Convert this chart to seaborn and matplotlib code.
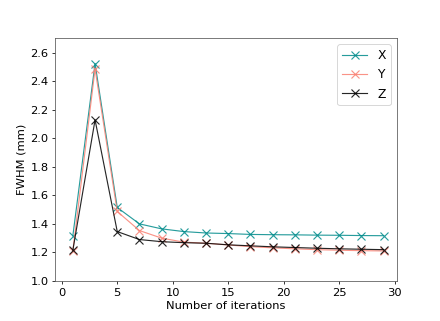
import matplotlib
matplotlib.use("Agg")
import matplotlib.pyplot as plt
import seaborn as sns

iterations = [1, 3, 5, 7, 9, 11, 13, 15, 17, 19, 21, 23, 25, 27, 29]
fwhm_x = [1.318, 2.525, 1.515, 1.400, 1.365, 1.346, 1.336, 1.332, 1.326, 1.324, 1.323, 1.321, 1.320, 1.318, 1.317]
fwhm_y = [1.212, 2.487, 1.487, 1.353, 1.300, 1.272, 1.264, 1.252, 1.240, 1.232, 1.225, 1.219, 1.215, 1.212, 1.210]
fwhm_z = [1.216, 2.130, 1.346, 1.290, 1.275, 1.268, 1.264, 1.253, 1.246, 1.239, 1.234, 1.229, 1.225, 1.222, 1.219]
series_names = ["X", "Y", "Z"]
colors = ["darkcyan", "salmon", "black"]

fig, ax = plt.subplots(figsize=(6.4, 4.66), dpi=68.9)
fig.subplots_adjust(left=0.125, right=0.9, bottom=0.125, top=0.882)
for name, vals, c in zip(series_names, [fwhm_x, fwhm_y, fwhm_z], colors):
    sns.lineplot(x=iterations, y=vals, color=c, marker="x", markersize=9,
                 markeredgewidth=1.2, markeredgecolor=c, linewidth=1.2,
                 alpha=0.85, label=name, ax=ax)
ax.set_xlim(-0.6, 30.2)
ax.set_ylim(1.0, 2.706)
ax.set_xticks([0, 5, 10, 15, 20, 25, 30])
ax.set_yticks([1.0, 1.2, 1.4, 1.6, 1.8, 2.0, 2.2, 2.4, 2.6])
ax.tick_params(labelsize=12)
ax.set_xlabel("Number of iterations", fontsize=12)
ax.set_ylabel("FWHM (mm)", fontsize=12)
for s in ax.spines.values():
    s.set_color("#555555")
ax.legend(loc="upper right", fontsize=13)
fig.savefig("out.png", dpi=68.9)
